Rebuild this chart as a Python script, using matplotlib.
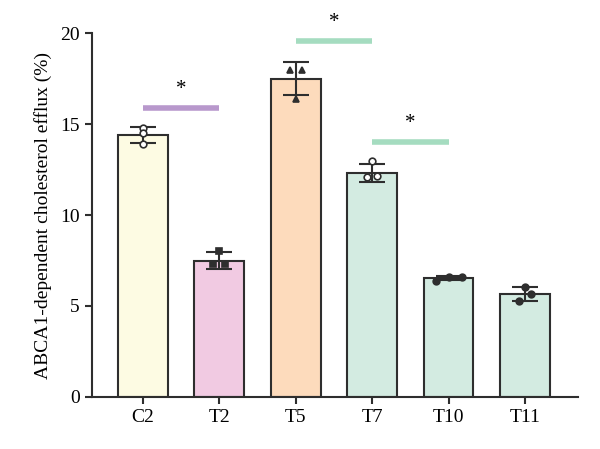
import matplotlib
matplotlib.use("Agg")
import matplotlib.pyplot as plt

groups = ["C2", "T2", "T5", "T7", "T10", "T11"]
means = [14.4, 7.5, 17.5, 12.3, 6.55, 5.65]
errs = [0.45, 0.45, 0.9, 0.5, 0.1, 0.4]
points = [
    [14.8, 14.5, 13.9],
    [8.0, 7.3, 7.3],
    [18.0, 18.0, 16.4],
    [13.0, 12.1, 12.15],
    [6.4, 6.62, 6.62],
    [5.3, 5.65, 6.05],
]
# horizontal jitter of each replicate point
jitter = [
    [0.0, 0.0, 0.0],
    [0.0, -0.08, 0.08],
    [-0.08, 0.08, 0.0],
    [0.0, -0.07, 0.07],
    [-0.16, 0.0, 0.17],
    [-0.08, 0.08, 0.0],
]
markers = ["o", "s", "^", "o", "o", "o"]
filled = [False, True, True, False, True, True]
colors = ["#fdfbe3", "#f1cae2", "#fddbbc", "#d3ebe1", "#d3ebe1", "#d3ebe1"]

# significance brackets: (left group, right group, height, colour)
sig = [(0, 1, 15.9, "#b898cc"), (2, 3, 19.55, "#a5dcc0"), (3, 4, 14.0, "#a5dcc0")]

plt.rcParams["font.family"] = ["Liberation Serif", "DejaVu Serif"]
edge = "#2e2e2e"

fig = plt.figure(figsize=(6, 4.49), dpi=100)
ax = fig.add_axes([0.153, 0.116, 0.81, 0.81])

x = list(range(len(groups)))
ax.bar(x, means, width=0.65, color=colors, edgecolor=edge, linewidth=1.5, zorder=2)
ax.errorbar(x, means, yerr=errs, fmt="none", ecolor=edge, elinewidth=1.5,
            capsize=9.5, capthick=1.5, zorder=3)

for i, pts in enumerate(points):
    for o, v in zip(jitter[i], pts):
        ax.plot(i + o, v, marker=markers[i], markersize=4.8, linestyle="none",
                markerfacecolor=edge if filled[i] else "white",
                markeredgecolor=edge, markeredgewidth=1.2, zorder=4)

for a, b, h, c in sig:
    ax.plot([a, b], [h, h], color=c, linewidth=4, solid_capstyle="butt", zorder=2)
    ax.text((a + b) / 2, h + 0.5, "*", ha="center", va="bottom", fontsize=15)

ax.set_xlim(-0.667, 5.69)
ax.set_ylim(0, 20)
ax.set_yticks([0, 5, 10, 15, 20])
ax.set_xticks(x)
ax.set_xticklabels(groups)
ax.set_ylabel("ABCA1-dependent cholesterol efflux (%)", fontsize=14, labelpad=6)
ax.tick_params(labelsize=14, width=1.5, length=5, color=edge)
for s in ["top", "right"]:
    ax.spines[s].set_visible(False)
for s in ["left", "bottom"]:
    ax.spines[s].set_linewidth(1.5)
    ax.spines[s].set_color(edge)

fig.savefig("out.png", dpi=100)
